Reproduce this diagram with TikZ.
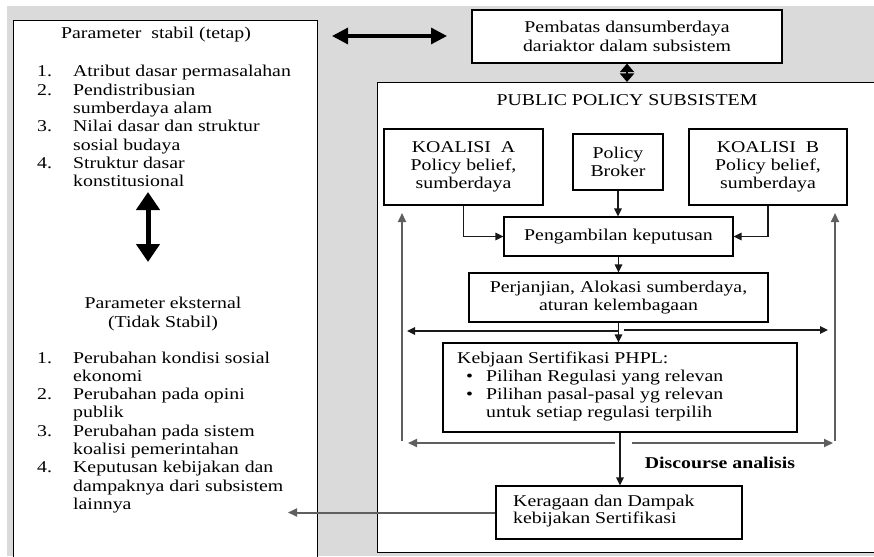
\documentclass[tikz,border=0pt]{standalone}
\usepackage{fontspec}
\setmainfont{Liberation Serif}[FakeStretch=1.2]
\usetikzlibrary{arrows.meta}
\definecolor{bg}{RGB}{218,218,218}
\definecolor{ln}{RGB}{25,25,25}
\definecolor{gl}{RGB}{95,95,95}
\newcommand\dsize{\fontsize{16.5pt}{18.3pt}\selectfont}
\begin{document}
\begin{tikzpicture}[x=1pt,y=-1pt,
  box/.style={draw=black, line width=1.2pt, fill=white, inner sep=0pt, align=center, font=\dsize},
  txt/.style={inner sep=0pt, font=\dsize},
  arr/.style={draw=ln, line width=1.3pt, -{Triangle[length=8pt,width=7.5pt]}},
  garr/.style={draw=gl, line width=2pt, -{Triangle[length=9pt,width=8pt]}},
  harr/.style={draw=black, line width=3.2pt, {Triangle[length=16pt,width=16pt]}-{Triangle[length=16pt,width=16pt]}},
  varr/.style={draw=black, line width=5pt, {Triangle[length=18pt,width=23pt]}-{Triangle[length=18pt,width=23pt]}},
  diaarr/.style={draw=black, line width=2pt, {Triangle[length=8.5pt,width=14pt]}-{Triangle[length=8.5pt,width=14pt]}}]
\useasboundingbox (0,0) rectangle (874,556);
\clip (0,0) rectangle (874,556);
\fill[white] (0,0) rectangle (874,556);
\fill[bg] (7,6) rectangle (874,556);

% left box
\node[box, minimum width=304pt, minimum height=545pt, anchor=north west] (lb) at (13,20) {};
\node[txt] (h1) at (156,35) {Parameter\ \ stabil (tetap)};
\node[txt, anchor=base west] (l1) at (37,77) {\begin{tabular}[t]{@{}p{36pt}@{}l@{}}
1. & Atribut dasar permasalahan\\
2. & Pendistribusian\\
   & sumberdaya alam\\
3. & Nilai dasar dan struktur\\
   & sosial budaya\\
4. & Struktur dasar\\
   & konstitusional
\end{tabular}};
\coordinate (va1) at (148,192);
\coordinate (va2) at (148,262);
\draw[varr] (va1) -- (va2);
\node[txt, align=center] (h2) at (163,314) {Parameter eksternal\\(Tidak Stabil)};
\node[txt, anchor=base west] (l2) at (37,363) {\begin{tabular}[t]{@{}p{36pt}@{}l@{}}
1. & Perubahan kondisi sosial\\
   & ekonomi\\
2. & Perubahan pada opini\\
   & publik\\
3. & Perubahan pada sistem\\
   & koalisi pemerintahan\\
4. & Keputusan kebijakan dan\\
   & dampaknya dari subsistem\\
   & lainnya
\end{tabular}};

% top box
\node[box, minimum width=310pt, minimum height=53pt] (pb) at (627,36.5) {Pembatas dansumberdaya\\dariaktor dalam subsistem};
\coordinate (ha1) at (332,36);
\coordinate (ha2) at (447,36);
\draw[harr] (ha1) -- (ha2);

% public policy subsystem
\node[box, minimum width=503pt, minimum height=470pt, anchor=north west] (pp) at (377,82) {};
\draw[diaarr] (pb.south) -- (pb.south |- pp.north);
\node[txt] (ppt) at (627,100) {PUBLIC POLICY SUBSISTEM};

\node[box, minimum width=159pt, minimum height=76pt] (ka) at (463.5,167) {KOALISI\ \ A\\Policy belief,\\sumberdaya};
\node[box, minimum width=90pt, minimum height=56pt] (br) at (618,162) {Policy\\Broker};
\node[box, minimum width=158pt, minimum height=76pt] (kb) at (768,167) {KOALISI\ \ B\\Policy belief,\\sumberdaya};
\node[box, minimum width=229pt, minimum height=39pt] (pg) at (618.5,236.5) {Pengambilan keputusan};
\node[box, minimum width=299pt, minimum height=49pt] (pj) at (618.5,297.5) {Perjanjian, Alokasi sumberdaya,\\aturan kelembagaan};
\node[box, minimum width=354pt, minimum height=89pt] (kj) at (620,387.5) {};
\node[txt, anchor=base west] (kjt) at (457,363) {\begin{tabular}[t]{@{}p{29pt}@{}l@{}}
\multicolumn{2}{@{}l@{}}{Kebjaan Sertifikasi PHPL:}\\
\hspace{9pt}\textbullet & Pilihan Regulasi yang relevan\\
\hspace{9pt}\textbullet & Pilihan pasal-pasal yg relevan\\
 & untuk setiap regulasi terpilih
\end{tabular}};
\node[box, minimum width=246pt, minimum height=53pt] (kr) at (619,512.5) {};
\node[txt, anchor=west, align=left, font=\fontsize{16.5pt}{17.5pt}\selectfont] (krt) at (513,511) {Keragaan dan Dampak\\kebijakan Sertifikasi};
\node[txt, font=\dsize\bfseries] (da) at (720,463) {Discourse analisis};

% connectors
\draw[arr] (br.south) -- (br.south |- pg.north);
\draw[arr] (ka.south) |- (pg.west);
\draw[arr] (kb.south) |- (pg.east);
\draw[arr] (pg.south) -- (pg.south |- pj.north);
\draw[arr] (pj.south) -- (pj.south |- kj.north);
\draw[arr] (kj.south) -- (kj.south |- kr.north);

\coordinate (la) at (407,331);
\coordinate (ra) at (828,330);
\draw[arr] (pj.south |- la) -- (la);
\draw[arr] ([xshift=5pt]pj.south |- ra) -- (ra);
\coordinate (lb2) at (408,443);
\coordinate (rb2) at (833,443);
\draw[garr] ([xshift=-5pt]kj.south |- lb2) -- (lb2);
\draw[garr] ([xshift=12pt]kj.south |- rb2) -- (rb2);

\coordinate (vl0) at (402,441);
\coordinate (vl1) at (402,213);
\coordinate (vr0) at (835,441);
\coordinate (vr1) at (835,213);
\draw[garr] (vl0) -- (vl1);
\draw[garr] (vr0) -- (vr1);

\coordinate (ext) at (288,513);
\draw[garr] (kr.west) -- (kr.west -| ext);
\end{tikzpicture}
\end{document}
